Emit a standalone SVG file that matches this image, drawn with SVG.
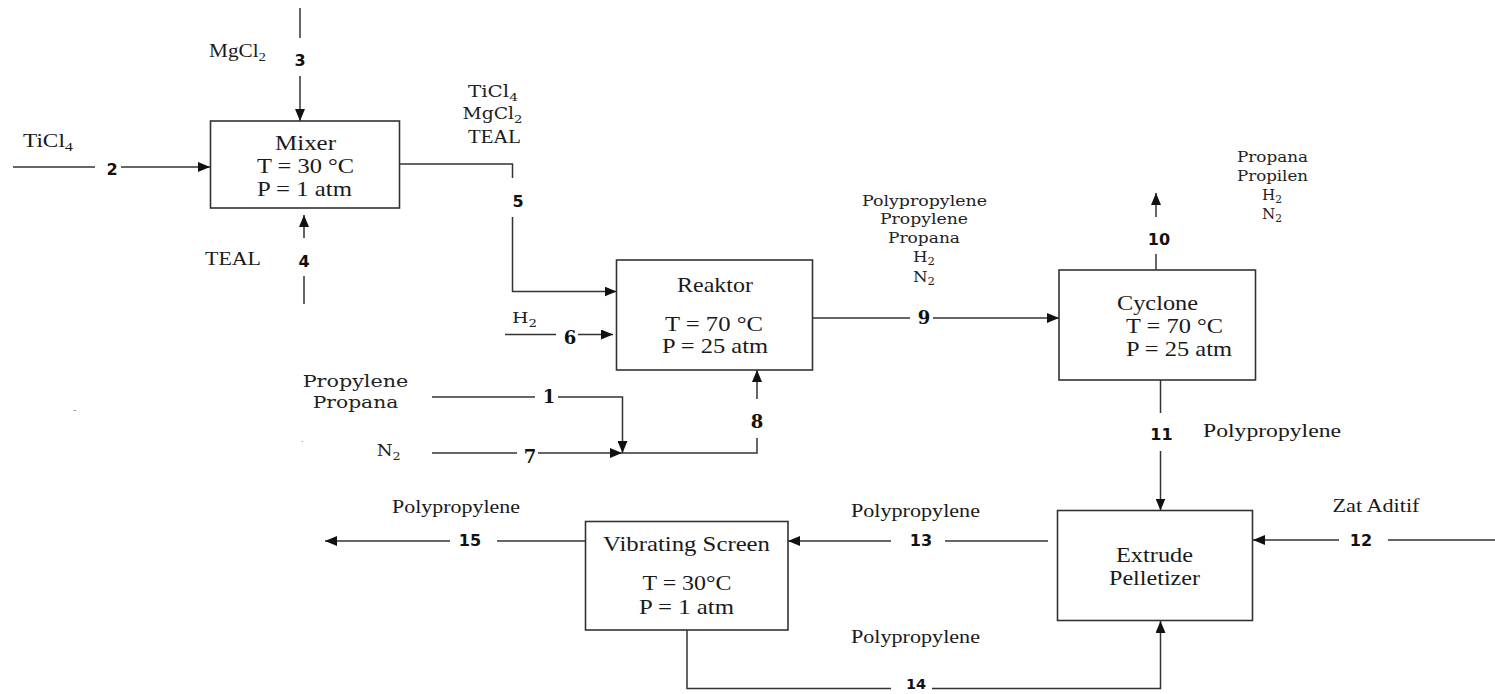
<svg xmlns="http://www.w3.org/2000/svg" width="1495" height="694" viewBox="0 0 1495 694">
<style>
.bg{fill:#ffffff}
.box{fill:#ffffff;stroke:#333333;stroke-width:1.6}
.ln{fill:none;stroke:#333333;stroke-width:1.5}
.t{font-family:"Liberation Serif","Times New Roman",serif;font-size:21.5px;fill:#1a1a1a}
.d{font-family:"DejaVu Serif",serif;font-size:15px;fill:#222222}
.ns{font-family:"DejaVu Sans",sans-serif;font-weight:bold;font-size:16px;fill:#111111;text-anchor:middle}
.nr{font-family:"DejaVu Serif",serif;font-weight:bold;font-size:18px;fill:#111111;text-anchor:middle}
.sub{font-size:70%}
</style>
<defs>
<marker id="ah" viewBox="0 0 12 10" refX="12" refY="5" markerWidth="12" markerHeight="10" markerUnits="userSpaceOnUse" orient="auto">
<path d="M0,0 L12,5 L0,10 z" fill="#111111"/>
</marker>
</defs>
<rect class="bg" x="0" y="0" width="1495" height="694"/>

<g id="connectors">
<!-- 3 -->
<line class="ln" x1="300" y1="8" x2="300" y2="38"/>
<line class="ln" x1="300" y1="76" x2="300" y2="121" marker-end="url(#ah)"/>
<text class="ns" x="300" y="66">3</text>
<!-- 2 -->
<line class="ln" x1="13" y1="167" x2="95" y2="167"/>
<line class="ln" x1="121" y1="167" x2="210" y2="167" marker-end="url(#ah)"/>
<text class="ns" x="112" y="175">2</text>
<!-- 4 -->
<line class="ln" x1="304" y1="304" x2="304" y2="276"/>
<line class="ln" x1="304" y1="238" x2="304" y2="215" marker-end="url(#ah)"/>
<text class="ns" x="304" y="267">4</text>
<!-- 5 -->
<polyline class="ln" points="399,164 512.5,164 512.5,178"/>
<polyline class="ln" points="512.5,217 512.5,291.5 616.5,291.5" marker-end="url(#ah)"/>
<text class="ns" x="518" y="207">5</text>
<!-- 6 -->
<line class="ln" x1="505" y1="334.5" x2="556" y2="334.5"/>
<line class="ln" x1="578" y1="334.5" x2="613" y2="334.5" marker-end="url(#ah)"/>
<text class="nr" x="570" y="344">6</text>
<!-- 1 -->
<line class="ln" x1="432" y1="397" x2="535" y2="397"/>
<polyline class="ln" points="558,397 622.5,397 622.5,453" marker-end="url(#ah)"/>
<text class="nr" x="549" y="403">1</text>
<!-- 7 -->
<line class="ln" x1="432" y1="453" x2="517" y2="453"/>
<line class="ln" x1="538" y1="453" x2="622" y2="453" marker-end="url(#ah)"/>
<text class="nr" x="530" y="463">7</text>
<!-- 8 -->
<polyline class="ln" points="622,453 757,453 757,438"/>
<line class="ln" x1="757" y1="399" x2="757" y2="370" marker-end="url(#ah)"/>
<text class="nr" x="757" y="428">8</text>
<!-- 9 -->
<line class="ln" x1="812" y1="318" x2="910" y2="318"/>
<line class="ln" x1="933" y1="318" x2="1059" y2="318" marker-end="url(#ah)"/>
<text class="nr" x="924" y="324">9</text>
<!-- 10 -->
<line class="ln" x1="1156" y1="270" x2="1156" y2="254"/>
<line class="ln" x1="1156" y1="217" x2="1156" y2="193" marker-end="url(#ah)"/>
<text class="ns" x="1159" y="245">10</text>
<!-- 11 -->
<line class="ln" x1="1160.5" y1="380" x2="1160.5" y2="413"/>
<line class="ln" x1="1160.5" y1="451" x2="1160.5" y2="510.5" marker-end="url(#ah)"/>
<text class="ns" x="1161.5" y="440">11</text>
<!-- 12 -->
<line class="ln" x1="1495" y1="540" x2="1388" y2="540"/>
<line class="ln" x1="1339" y1="540" x2="1253" y2="540" marker-end="url(#ah)"/>
<text class="ns" x="1361" y="546">12</text>
<!-- 13 -->
<line class="ln" x1="1048" y1="541" x2="945" y2="541"/>
<line class="ln" x1="891" y1="541" x2="788" y2="541" marker-end="url(#ah)"/>
<text class="ns" x="921" y="546">13</text>
<!-- 15 -->
<line class="ln" x1="585" y1="541" x2="497" y2="541"/>
<line class="ln" x1="450" y1="541" x2="325" y2="541" marker-end="url(#ah)"/>
<text class="ns" x="470" y="546">15</text>
<!-- 14 -->
<polyline class="ln" points="687,630 687,688.5 891,688.5"/>
<polyline class="ln" points="932,688.5 1160.5,688.5 1160.5,621" marker-end="url(#ah)"/>
<text class="ns" x="916" y="689" style="font-size:14.5px">14</text>
</g>

<g id="mixer">
<rect class="box" x="210.5" y="121" width="189" height="87"/>
<text class="t" x="275" y="150" textLength="61" lengthAdjust="spacingAndGlyphs">Mixer</text>
<text class="t" x="257" y="173" textLength="97" lengthAdjust="spacingAndGlyphs">T = 30 °C</text>
<text class="t" x="257" y="196" textLength="95" lengthAdjust="spacingAndGlyphs">P = 1 atm</text>
</g>

<g id="reaktor">
<rect class="box" x="616.5" y="260" width="196" height="110"/>
<text class="t" x="677" y="292" textLength="76" lengthAdjust="spacingAndGlyphs">Reaktor</text>
<text class="t" x="665" y="331" textLength="98" lengthAdjust="spacingAndGlyphs">T = 70 °C</text>
<text class="t" x="662" y="353" textLength="106" lengthAdjust="spacingAndGlyphs">P = 25 atm</text>
</g>

<g id="cyclone">
<rect class="box" x="1059" y="270" width="196.5" height="110"/>
<text class="t" x="1117" y="310" textLength="81" lengthAdjust="spacingAndGlyphs">Cyclone</text>
<text class="t" x="1126" y="333" textLength="97" lengthAdjust="spacingAndGlyphs">T = 70 °C</text>
<text class="t" x="1126" y="356" textLength="106" lengthAdjust="spacingAndGlyphs">P = 25 atm</text>
</g>

<g id="extrude-pelletizer">
<rect class="box" x="1057.5" y="510.5" width="195" height="110"/>
<text class="t" x="1116" y="562" textLength="77" lengthAdjust="spacingAndGlyphs">Extrude</text>
<text class="t" x="1109" y="585" textLength="91" lengthAdjust="spacingAndGlyphs">Pelletizer</text>
</g>

<g id="vibrating-screen">
<rect class="box" x="585.5" y="521.5" width="202.5" height="108.5"/>
<text class="t" x="603" y="551" textLength="167" lengthAdjust="spacingAndGlyphs">Vibrating Screen</text>
<text class="t" x="642.5" y="590" textLength="89" lengthAdjust="spacingAndGlyphs">T = 30°C</text>
<text class="t" x="639" y="614" textLength="95" lengthAdjust="spacingAndGlyphs">P = 1 atm</text>
</g>

<g id="labels">
<text class="t" x="209" y="57" style="font-size:18px" textLength="57" lengthAdjust="spacingAndGlyphs">MgCl<tspan class="sub" dy="4">2</tspan></text>
<text class="t" x="23" y="147" style="font-size:19px" textLength="50" lengthAdjust="spacingAndGlyphs">TiCl<tspan class="sub" dy="4">4</tspan></text>
<text class="d" x="468" y="97" style="font-size:17px" textLength="50" lengthAdjust="spacingAndGlyphs">TiCl<tspan class="sub" dy="4">4</tspan></text>
<text class="d" x="462.5" y="119" style="font-size:17px" textLength="60" lengthAdjust="spacingAndGlyphs">MgCl<tspan class="sub" dy="4">2</tspan></text>
<text class="t" x="468" y="143" style="font-size:19px" textLength="53" lengthAdjust="spacingAndGlyphs">TEAL</text>
<text class="t" x="205" y="265" style="font-size:19px" textLength="56" lengthAdjust="spacingAndGlyphs">TEAL</text>
<text class="d" x="512" y="323" style="font-size:15px" textLength="25" lengthAdjust="spacingAndGlyphs">H<tspan class="sub" dy="4">2</tspan></text>
<text class="d" x="302.7" y="387" style="font-size:17px" textLength="105.6" lengthAdjust="spacingAndGlyphs">Propylene</text>
<text class="d" x="312.7" y="408" style="font-size:17px" textLength="85.6" lengthAdjust="spacingAndGlyphs">Propana</text>
<text class="d" x="376.7" y="456" style="font-size:17px" textLength="24" lengthAdjust="spacingAndGlyphs">N<tspan class="sub" dy="4">2</tspan></text>
<text class="d" x="862" y="206" textLength="125" lengthAdjust="spacingAndGlyphs">Polypropylene</text>
<text class="d" x="880" y="224" textLength="88" lengthAdjust="spacingAndGlyphs">Propylene</text>
<text class="d" x="888" y="243" textLength="72" lengthAdjust="spacingAndGlyphs">Propana</text>
<text class="d" x="913" y="262" textLength="22" lengthAdjust="spacingAndGlyphs">H<tspan class="sub" dy="3">2</tspan></text>
<text class="d" x="913" y="282" textLength="22" lengthAdjust="spacingAndGlyphs">N<tspan class="sub" dy="3">2</tspan></text>
<text class="d" x="1237" y="162" textLength="71" lengthAdjust="spacingAndGlyphs">Propana</text>
<text class="d" x="1237" y="181" textLength="71" lengthAdjust="spacingAndGlyphs">Propilen</text>
<text class="d" x="1262" y="200" textLength="20" lengthAdjust="spacingAndGlyphs">H<tspan class="sub" dy="3">2</tspan></text>
<text class="d" x="1262" y="219" textLength="20" lengthAdjust="spacingAndGlyphs">N<tspan class="sub" dy="3">2</tspan></text>
<text class="t" x="1203" y="437" style="font-size:19px" textLength="138" lengthAdjust="spacingAndGlyphs">Polypropylene</text>
<text class="t" x="392" y="513" style="font-size:18px" textLength="128" lengthAdjust="spacingAndGlyphs">Polypropylene</text>
<text class="t" x="851" y="517" style="font-size:18px" textLength="129" lengthAdjust="spacingAndGlyphs">Polypropylene</text>
<text class="t" x="851" y="643" style="font-size:18px" textLength="129" lengthAdjust="spacingAndGlyphs">Polypropylene</text>
<text class="t" x="1332.5" y="512" style="font-size:18px" textLength="87" lengthAdjust="spacingAndGlyphs">Zat Aditif</text>
<text class="t" x="73" y="413" style="font-size:10px;fill:#888888">-</text>
<text class="t" x="301" y="442" style="font-size:10px;fill:#888888">.</text>
</g>
</svg>
